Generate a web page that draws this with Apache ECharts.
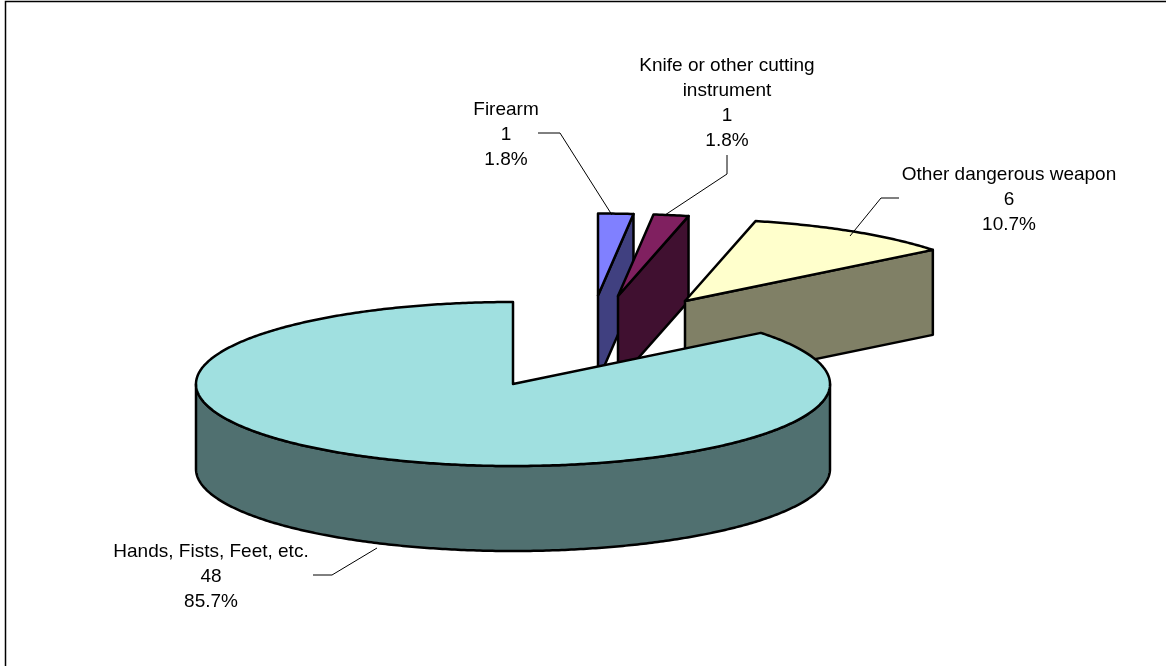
<!DOCTYPE html>
<html>
<head>
<meta charset="utf-8">
<style>html,body{margin:0;padding:0;background:#fff}#c{width:1166px;height:666px}</style>
<script src="https://cdn.jsdelivr.net/npm/echarts@6/dist/echarts.min.js"></script>
</head>
<body>
<div id="c"></div>
<script>
var categories = ['Firearm', 'Knife or other cutting\ninstrument', 'Other dangerous weapon', 'Hands, Fists, Feet, etc.'];
var values = [1, 1, 6, 48];

// Layout of the tilted pie, kept apart from the data
var RX = 317, RY = 82, DEPTH = 85;
var centers = [[598, 295.5], [618, 296], [685, 301], [513, 384]];
var topColors = ['#8080FF', '#802060', '#FFFFCC', '#A0E0E0'];
var sideColors = ['#404080', '#401030', '#808066', '#507070'];
var labelAt = [[506, 135], [727, 103], [1009, 200], [211, 577]];
var leaders = [
  [[538, 133], [560, 133], [612, 215]],
  [[727, 155], [727, 174], [665, 215]],
  [[899, 198], [881, 198], [850, 236]],
  [[313, 575], [332, 575], [377, 548]]
];
var FONT = 'Liberation Sans, Arial, sans-serif';
var total = values.reduce(function (a, b) { return a + b; }, 0);

function pt(c, a, dz) {
  return [c[0] + RX * Math.sin(a), c[1] - RY * Math.cos(a) + (dz || 0)];
}
function arc(c, a0, a1, dz) {
  var pts = [], n = Math.max(2, Math.ceil(Math.abs(a1 - a0) / 0.01));
  for (var i = 0; i <= n; i++) pts.push(pt(c, a0 + (a1 - a0) * i / n, dz));
  return pts;
}
function poly(points, fill) {
  return {
    type: 'polygon',
    shape: { points: points },
    style: { fill: fill, stroke: '#000', lineWidth: 2.5, lineJoin: 'round' },
    silent: true
  };
}

function renderItem(params, api) {
  var i = params.dataIndex, v = api.value(0), before = 0;
  for (var k = 0; k < i; k++) before += values[k];
  var a0 = before / total * 2 * Math.PI;
  var a1 = (before + v) / total * 2 * Math.PI;
  var c = centers[i], children = [];

  if (a1 - a0 < Math.PI) {
    // Exploded wedge: its trailing radial wall faces the viewer
    var e = pt(c, a1);
    children.push(poly([e, c, [c[0], c[1] + DEPTH], [e[0], e[1] + DEPTH]], sideColors[i]));
  } else {
    // Large slice: the outer rim facing the viewer, between its side extremes
    var from = Math.max(a0, Math.PI / 2), to = Math.min(a1, Math.PI * 1.5);
    var rim = arc(c, from, to, 0).concat(arc(c, to, from, DEPTH));
    children.push(poly(rim, sideColors[i]));
  }
  children.push(poly([c].concat(arc(c, a0, a1)), topColors[i]));

  var pct = (v / total * 100).toFixed(1) + '%';
  children.push({
    type: 'text',
    silent: true,
    style: {
      text: categories[i] + '\n' + v + '\n' + pct,
      x: labelAt[i][0], y: labelAt[i][1],
      align: 'center', verticalAlign: 'middle',
      font: '19px ' + FONT, lineHeight: 25, fill: '#000'
    }
  });
  children.push({
    type: 'polyline',
    silent: true,
    shape: { points: leaders[i] },
    style: { fill: 'none', stroke: '#000', lineWidth: 1 }
  });
  return { type: 'group', children: children };
}

var chart = echarts.init(document.getElementById('c'), null, { renderer: 'canvas' });
chart.setOption({
  animation: false,
  backgroundColor: '#fff',
  tooltip: { show: false },
  graphic: [{
    type: 'polyline',
    silent: true,
    shape: { points: [[5.5, 666], [5.5, 1.5], [1166, 1.5]] },
    style: { fill: 'none', stroke: '#000', lineWidth: 1.5 }
  }],
  series: [{
    type: 'custom',
    coordinateSystem: 'none',
    silent: true,
    data: values.map(function (v, i) { return { name: categories[i], value: [v] }; }),
    renderItem: renderItem
  }]
});
</script>
</body>
</html>
